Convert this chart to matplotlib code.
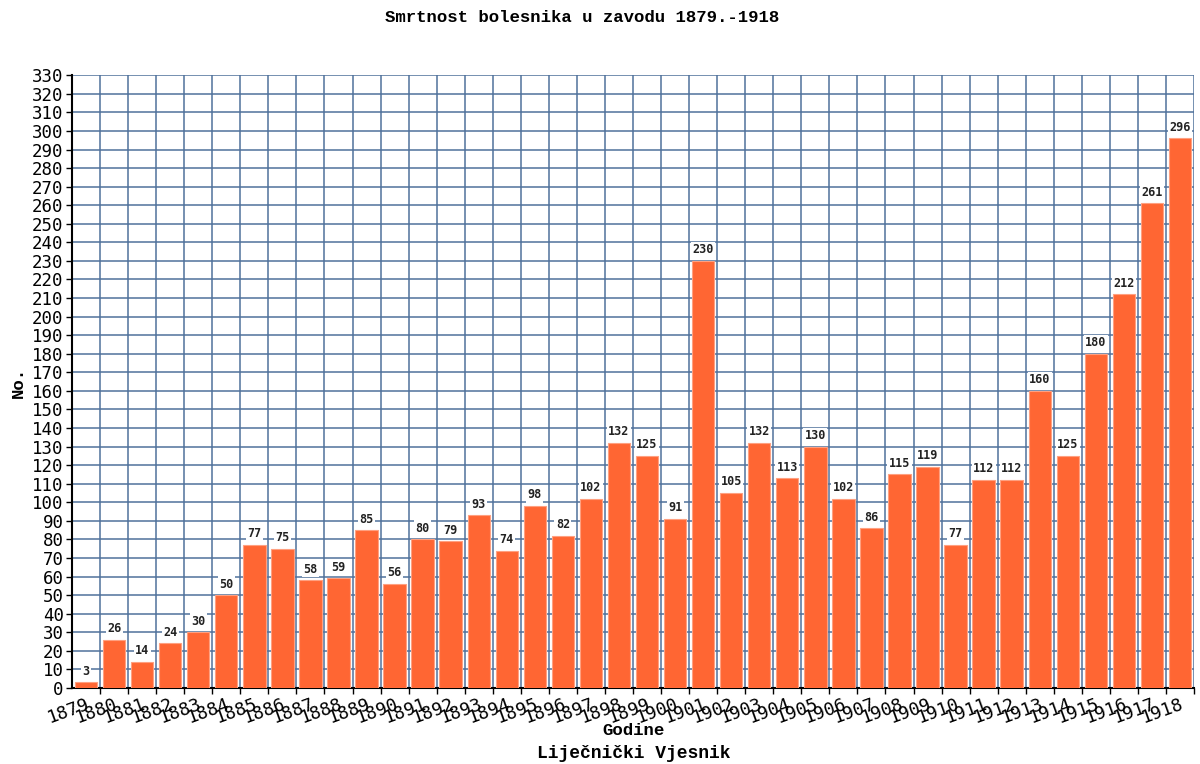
import matplotlib
matplotlib.use("Agg")
import matplotlib.pyplot as plt
import numpy as np

years = [str(y) for y in range(1879, 1919)]
deaths = [3, 26, 14, 24, 30, 50, 77, 75, 58, 59, 85, 56, 80, 79, 93, 74, 98, 82,
          102, 132, 125, 91, 230, 105, 132, 113, 130, 102, 86, 115, 119, 77, 112,
          112, 160, 125, 180, 212, 261, 296]

mono = ['Liberation Mono', 'DejaVu Sans Mono']
tickfont = 'DejaVu Sans Mono'

fig = plt.figure(figsize=(12, 7.64), dpi=100)
ax = fig.add_axes([0.06, 0.0995, 0.935, 0.802])

x = np.arange(len(years))
ax.bar(x, deaths, width=0.8, color='#ff6633', edgecolor='#ffa080', linewidth=0.8, zorder=3)

for xi, v in zip(x, deaths):
    ax.text(xi, v + 2.5, str(v), ha='center', va='bottom', fontsize=8.5,
            family=tickfont, fontweight='bold', color='#222222', zorder=4,
            bbox=dict(facecolor='white', edgecolor='none', pad=1.0))

ax.set_xlim(-0.5, len(years) - 0.5)
ax.set_ylim(0, 330)
ax.set_yticks(np.arange(0, 331, 10))
ax.set_yticklabels([str(v) for v in range(0, 331, 10)], family=tickfont, fontsize=12.5)
ax.tick_params(axis='y', length=4, width=1, pad=2)

ax.set_xticks(x)
ax.set_xticklabels(years, rotation=20, ha='right', va='top', rotation_mode='anchor',
                   fontsize=13, family=tickfont)
ax.set_xticks(x[:-1] + 0.5, minor=True)
ax.set_xticks(list(x[:-1] + 0.5) + [len(years) - 0.5], minor=True)
ax.tick_params(axis='x', which='major', length=0, pad=5)
ax.tick_params(axis='x', which='minor', length=4, width=1)

ax.grid(True, axis='y', which='major', color='#4f719b', linewidth=1.1, zorder=0)
ax.grid(True, axis='x', which='minor', color='#4f719b', linewidth=1.1, zorder=0)
ax.set_axisbelow(True)
for s in ['top', 'right']:
    ax.spines[s].set_visible(False)
ax.spines['left'].set_linewidth(1.5)
ax.spines['bottom'].set_linewidth(1.5)

fig.text(0.485, 0.977, 'Smrtnost bolesnika u zavodu 1879.-1918', ha='center', va='center',
         fontsize=12.5, fontweight='bold', family=mono)
fig.text(0.528, 0.044, 'Godine', ha='center', va='center',
         fontsize=12.5, fontweight='bold', family=mono)
fig.text(0.528, 0.014, 'Liječnički Vjesnik', ha='center', va='center',
         fontsize=13, fontweight='bold', family=mono)
fig.text(0.015, 0.5, 'No.', ha='center', va='center', rotation=90,
         fontsize=12.5, fontweight='bold', family=mono)

fig.savefig('out.png', dpi=100, facecolor='white')
